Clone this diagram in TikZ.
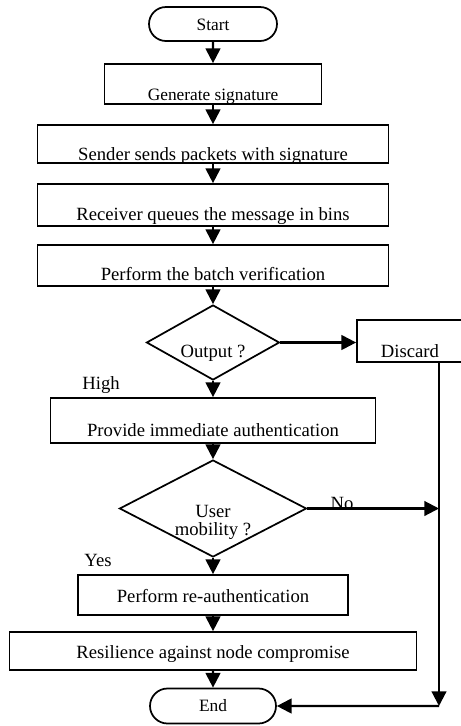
\documentclass[tikz,border=0pt]{standalone}
\usepackage{fontspec}
\setmainfont{Liberation Serif}
\usepackage{tikz}
\usetikzlibrary{arrows.meta,shapes.geometric,shapes.misc}

\begin{document}
\begin{tikzpicture}[x=0.75pt, y=-0.75pt,
  every node/.style={font=\fontsize{14}{13.5}\selectfont},
  smaller/.style={font=\fontsize{13}{13.5}\selectfont},
  term/.style={draw, line width=1.3pt, rounded rectangle, inner sep=0pt, text depth=0pt, smaller},
  box/.style={draw, line width=1.3pt, rectangle, inner sep=0pt, text depth=0pt},
  dec/.style={draw, line width=1.3pt, diamond, inner sep=0pt},
  arr/.style={line width=1.6pt, -{Triangle[width=11pt,length=11pt]}}]
\useasboundingbox (0,0) rectangle (461,726);
% Start
\node[term, minimum width=96pt, minimum height=25.5pt, text height=9pt] (start) at (213,24) {Start};
% Main steps
\node[box, smaller, minimum width=162.75pt, minimum height=30pt, text height=24pt] (gen) at (213,84) {Generate signature};
\node[box, minimum width=263.25pt, minimum height=28.5pt, text height=24pt] (send) at (213,144) {Sender sends packets with signature};
\node[box, minimum width=263.25pt, minimum height=31.5pt, text height=22.5pt] (recv) at (213,205) {Receiver queues the message in bins};
\node[box, minimum width=263.25pt, minimum height=30.75pt, text height=21.75pt] (batch) at (213,265.5) {Perform the batch verification};
% First decision and discard branch
\node[dec, shape aspect=1.77, minimum width=99.75pt, minimum height=56.25pt, text height=21.75pt, text depth=0pt] (out) at (213,342.5) {Output ?};
\node[box, minimum width=79.5pt, minimum height=31.5pt, text height=24pt] (disc) at (410,341) {Discard};
\node (high) at (101,385) {High};
\node[box, minimum width=243.75pt, minimum height=33.75pt, text height=23.25pt] (auth) at (213,420.5) {Provide immediate authentication};
% Second decision
\node[dec, shape aspect=1.93, minimum width=140.25pt, minimum height=72.75pt, align=center, text height=40pt, text depth=0.25pt] (mob) at (213,508.5) {User\\mobility ?};
\node[anchor=base] (no) at (342,509) {No};
\node (yes) at (98,560) {Yes};
\node[box, minimum width=202.5pt, minimum height=30pt, text height=10.5pt] (reauth) at (213,595) {Perform re-authentication};
\node[box, minimum width=305.25pt, minimum height=28.5pt, text height=10.5pt] (resil) at (213,651) {Resilience against node compromise};
% End
\node[term, minimum width=94.5pt, minimum height=26.25pt, text height=8.25pt] (stop) at (213,706) {End};
\coordinate (turn) at (439,706);
% Arrows down the main line
\foreach \a/\b in {start/gen, gen/send, send/recv, recv/batch, batch/out,
                   out/auth, auth/mob, mob/reauth, reauth/resil, resil/stop}
  \draw[arr] (\a) -- (\b);
% Side branches
\draw[arr] (out.east) -- (out.east -| disc.west);
\draw[arr] (mob.east) -- (mob.east -| turn);
\draw[arr] (disc.south -| turn) -- (turn);
\draw[arr] (turn) -- (stop);
\end{tikzpicture}
\end{document}
